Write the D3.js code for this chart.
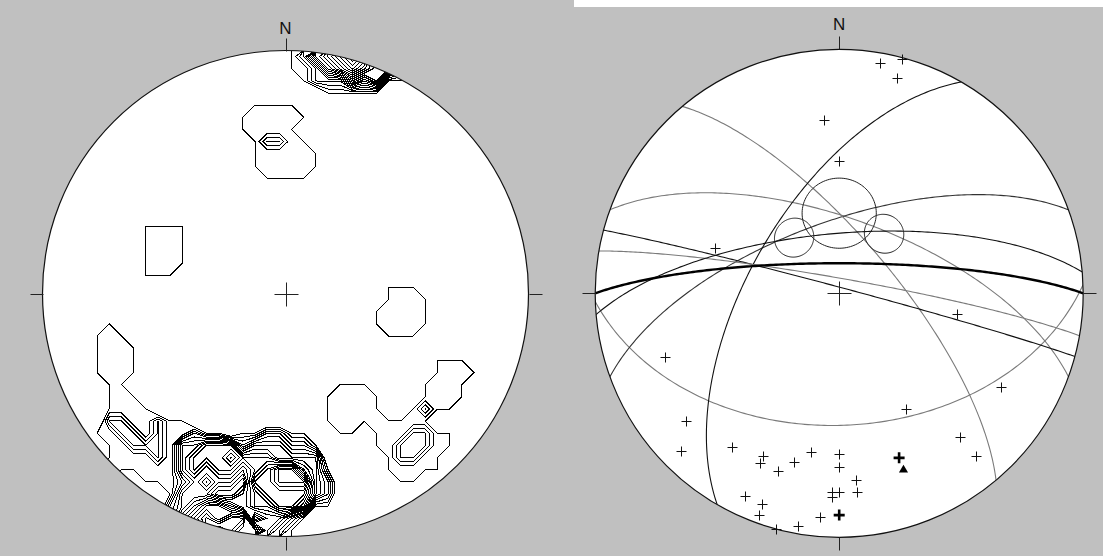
<!DOCTYPE html>
<html>
<head>
<meta charset="utf-8">
<script src="https://cdn.jsdelivr.net/npm/d3@7"></script>
<style>
  html, body { margin: 0; padding: 0; background: #fff; }
  svg { display: block; }
  text { font-family: "Liberation Sans", Arial, sans-serif; }
</style>
</head>
<body>
<svg id="chart" width="1103" height="556"></svg>
<script>
// ---- Data: lower-hemisphere measurements, degrees ----
// Poles to planes (trend / plunge)
const poleTrend  = [355, 0, 290, 15, 10, 15, 100, 120, 150, 140, 140, 175, 175, 180, 180, 180,
                    250, 230, 225, 215, 205, 205, 199, 195, 190, 182, 182, 205, 200, 200, 185, 190, 195];
const polePlunge = [29.6, 45, 45, 0.5, 4.8, 9.6, 49.4, 24.3, 44.3, 24.2, 13.8, 24.1, 19.2, 34.4, 29.4, 19.6,
                    24.9, 19.4, 9.3, 24.2, 27.2, 24.4, 24.2, 29.2, 34.3, 19.6, 17.5, 9.4, 8.9, 3.9, 8.7, 3.5, 0];

// Planes drawn as great circles (dip direction / dip)
const planeDipDir = [178, 20, 340, 50, 300, 15, 10, 355];
const planeDip    = [45, 65, 66, 72, 60, 88, 85, 70];

// Best-fit plane (bold great circle, its pole drawn bold)
const fitDipDir = 0;
const fitDip = 80;

// Cones drawn as small circles (axis trend / plunge, half-angle)
const coneTrend  = [0, 321, 37];
const conePlunge = [63, 66, 65];
const coneAngle  = [12, 6.5, 6.5];

// Mean pole (bold cross) and eigenvector (triangle)
const meanPole = [160, 29];
const eigenAxis = [160, 24];

// Density contouring: counting cone area (fraction of hemisphere), levels in %
const countingArea = 0.015;
const contourLevels = d3.range(3, 40, 1);
const gridSize = 40;

// Line tones for the great circles (light / dark)
const planeTone = ["#7a7a7a", "#7a7a7a", "#333", "#7a7a7a", "#111", "#111", "#7a7a7a", "#111"];

// ---- Geometry ----
const rad = Math.PI / 180;
function toVec(trend, plunge) {
  const t = trend * rad, p = plunge * rad;
  return [Math.cos(p) * Math.cos(t), Math.cos(p) * Math.sin(t), Math.sin(p)]; // north, east, down
}
// Equal-area (Schmidt) lower-hemisphere projection -> [east, north] in unit circle
function project(v) {
  let [n, e, d] = v;
  if (d < -1e-9) { n = -n; e = -e; d = -d; }
  const len = Math.hypot(n, e, d);
  n /= len; e /= len; d = Math.max(0, d / len);
  const c = Math.acos(Math.min(1, d));
  const r = Math.SQRT2 * Math.sin(c / 2);
  const h = Math.hypot(n, e);
  return h < 1e-12 ? [0, 0] : [r * e / h, r * n / h];
}
function greatCircle(dipDir, dip) {
  const s = toVec(dipDir - 90, 0), d = toVec(dipDir, dip);
  const pts = [];
  for (let a = 0; a <= 180; a += 1) {
    const c = Math.cos(a * rad), si = Math.sin(a * rad);
    pts.push(project([s[0] * c + d[0] * si, s[1] * c + d[1] * si, s[2] * c + d[2] * si]));
  }
  return pts;
}
function cross(a, b) {
  return [a[1] * b[2] - a[2] * b[1], a[2] * b[0] - a[0] * b[2], a[0] * b[1] - a[1] * b[0]];
}
function smallCircle(trend, plunge, angle) {
  const a = toVec(trend, plunge);
  const p = plunge * rad, t = trend * rad;
  const u = [Math.sin(p) * Math.cos(t), Math.sin(p) * Math.sin(t), -Math.cos(p)];
  const w = cross(a, u);
  const ca = Math.cos(angle * rad), sa = Math.sin(angle * rad);
  const pts = [];
  for (let k = 0; k <= 360; k += 3) {
    const c = Math.cos(k * rad), s = Math.sin(k * rad);
    pts.push(project([0, 1, 2].map(i => a[i] * ca + (u[i] * c + w[i] * s) * sa)));
  }
  return pts;
}

// ---- Layout ----
const svg = d3.select("#chart");
const grey = "#c0c0c0";
svg.append("rect").attr("x", 0).attr("y", 0).attr("width", 574).attr("height", 556).attr("fill", grey);
svg.append("rect").attr("x", 574).attr("y", 7).attr("width", 529).attr("height", 549).attr("fill", grey);

function makeNet(id, cx, cy, R, labelY) {
  const x = d3.scaleLinear().domain([-1, 1]).range([cx - R, cx + R]);
  const y = d3.scaleLinear().domain([-1, 1]).range([cy + R, cy - R]);
  const g = svg.append("g");
  g.append("circle").attr("cx", cx).attr("cy", cy).attr("r", R).attr("fill", "#fff");
  const clip = svg.append("clipPath").attr("id", id);
  clip.append("circle").attr("cx", cx).attr("cy", cy).attr("r", R);
  const inner = g.append("g").attr("clip-path", `url(#${id})`);
  const top = g.append("g");
  // primitive, ticks, centre cross, north label
  top.append("circle").attr("cx", cx).attr("cy", cy).attr("r", R)
    .attr("fill", "none").attr("stroke", "#111").attr("stroke-width", 1.2);
  const tick = 13, arm = 12;
  const tk = [[cx, cy - R, cx, cy - R - tick], [cx, cy + R, cx, cy + R + tick],
              [cx - R, cy, cx - R - tick, cy], [cx + R, cy, cx + R + tick, cy],
              [cx - arm, cy, cx + arm, cy], [cx, cy - arm, cx, cy + arm]];
  top.selectAll("line.tk").data(tk).join("line")
    .attr("x1", d => Math.round(d[0]) + 0.5).attr("y1", d => Math.round(d[1]) + 0.5)
    .attr("x2", d => Math.round(d[2]) + 0.5).attr("y2", d => Math.round(d[3]) + 0.5)
    .attr("stroke", "#222").attr("stroke-width", 1);
  top.append("text").attr("x", cx).attr("y", labelY).attr("text-anchor", "middle")
    .attr("font-size", 17).attr("fill", "#111").text("N");
  return { x, y, g, inner, top, cx, cy, R };
}

const left = makeNet("clipL", 285.5, 293.5, 243, 34);
const right = makeNet("clipR", 839.2, 293.3, 244, 30);

// ---- Left net: pole density contours ----
const poleVecs = poleTrend.map((t, i) => toVec(t, polePlunge[i]));
const cosCone = 1 - countingArea;
const values = new Array(gridSize * gridSize);
for (let j = 0; j < gridSize; j++) {
  for (let i = 0; i < gridSize; i++) {
    let u = -1 + (i + 0.5) * 2 / gridSize;
    let v = 1 - (j + 0.5) * 2 / gridSize;
    const rho = Math.hypot(u, v);
    if (rho > 1) { u /= rho; v /= rho; }
    const rr = Math.min(1, Math.hypot(u, v));
    const c = 2 * Math.asin(rr / Math.SQRT2);
    const vec = toVec(Math.atan2(u, v) / rad, 90 - c / rad);
    let count = 0;
    for (const p of poleVecs) {
      const dot = Math.abs(p[0] * vec[0] + p[1] * vec[1] + p[2] * vec[2]);
      if (dot >= cosCone) count++;
    }
    values[j * gridSize + i] = count * 100 / poleVecs.length;
  }
}
const contours = d3.contours().size([gridSize, gridSize]).thresholds(contourLevels)(values);
const gx = d3.scaleLinear().domain([0, gridSize]).range([left.cx - left.R, left.cx + left.R]);
const gy = d3.scaleLinear().domain([0, gridSize]).range([left.cy - left.R, left.cy + left.R]);
const gridPath = d3.geoPath(d3.geoTransform({
  point(px, py) { this.stream.point(gx(px), gy(py)); }
}));
left.inner.selectAll("path.contour").data(contours).join("path")
  .attr("class", "contour")
  .attr("d", gridPath)
  .attr("fill", "none")
  .attr("stroke", "#000")
  .attr("stroke-width", 1)
  .attr("shape-rendering", "crispEdges");

// ---- Right net: planes, cones, poles ----
const line = d3.line().x(d => right.x(d[0])).y(d => right.y(d[1]));
right.inner.selectAll("path.plane").data(planeDipDir.map((dd, i) => greatCircle(dd, planeDip[i])))
  .join("path").attr("class", "plane")
  .attr("d", line).attr("fill", "none")
  .attr("stroke", (d, i) => planeTone[i]).attr("stroke-width", 1.1);
right.inner.selectAll("path.cone").data(coneTrend.map((t, i) => smallCircle(t, conePlunge[i], coneAngle[i])))
  .join("path").attr("class", "cone")
  .attr("d", line).attr("fill", "none").attr("stroke", "#222").attr("stroke-width", 1);
right.inner.append("path").datum(greatCircle(fitDipDir, fitDip))
  .attr("d", line).attr("fill", "none").attr("stroke", "#000").attr("stroke-width", 2.4);

function crossPath(size) { return `M${-size},0H${size}M0,${-size}V${size}`; }
const polePts = poleTrend.map((t, i) => project(toVec(t, polePlunge[i])));
right.top.selectAll("path.pole").data(polePts).join("path")
  .attr("class", "pole")
  .attr("transform", d => `translate(${Math.round(right.x(d[0])) + 0.5},${Math.round(right.y(d[1])) + 0.5})`)
  .attr("d", crossPath(5)).attr("stroke", "#111").attr("stroke-width", 1).attr("fill", "none");

const boldPts = [project(toVec(fitDipDir + 180, 90 - fitDip)), project(toVec(meanPole[0], meanPole[1]))];
right.top.selectAll("path.bold").data(boldPts).join("path")
  .attr("class", "bold")
  .attr("transform", d => `translate(${right.x(d[0])},${right.y(d[1])})`)
  .attr("d", crossPath(5.5)).attr("stroke", "#000").attr("stroke-width", 2.6).attr("fill", "none");

const tri = project(toVec(eigenAxis[0], eigenAxis[1]));
right.top.append("path")
  .attr("transform", `translate(${right.x(tri[0])},${right.y(tri[1])})`)
  .attr("d", d3.symbol(d3.symbolTriangle, 36)())
  .attr("fill", "#000");
</script>
</body>
</html>
